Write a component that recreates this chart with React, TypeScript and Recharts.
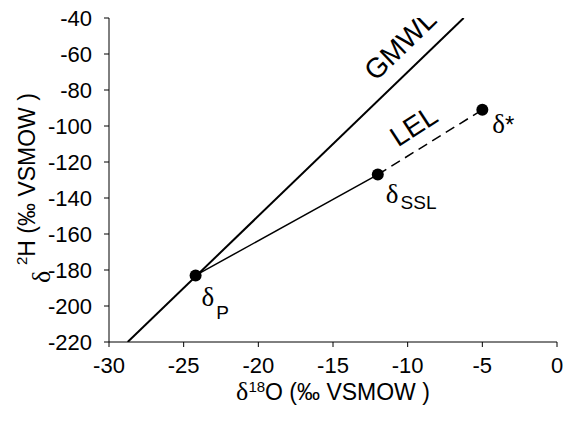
import { ScatterChart, Scatter, XAxis, YAxis } from "recharts";

const xTicks = [-30, -25, -20, -15, -10, -5, 0];
const yTicks = [-220, -200, -180, -160, -140, -120, -100, -80, -60, -40];

// GMWL end points (d2H = 8 d18O + 10)
const gmwlX = [-28.75, -6.25];
const gmwlY = [-220, -40];

// dP, dSSL, d*
const pointNames = ["P", "SSL", "*"];
const pointX = [-24.2, -12, -5];
const pointY = [-183, -127, -91];

// line captions
const lineNames = ["GMWL", "LEL"];
const lineLabelX = [-10.5, -9.6];
const lineLabelY = [-55, -100];

const gmwl = gmwlX.map((x, i) => ({ x, y: gmwlY[i] }));
const points = pointNames.map((name, i) => ({ name, x: pointX[i], y: pointY[i] }));
const lelSolid = points.slice(0, 2);
const lelDashed = points.slice(1);
const lineLabels = lineNames.map((name, i) => ({ name, x: lineLabelX[i], y: lineLabelY[i] }));

const SANS = "'Liberation Sans', Arial, sans-serif";
const SERIF = "'Liberation Serif', 'Times New Roman', serif";

// dx, dy of the delta, dy of the subscript
const labelOffset: Record<string, number[]> = {
  P: [6, 31, 13],
  SSL: [8, 28, 6],
  "*": [10, 23, 0],
};

const angles: Record<string, number> = { GMWL: -44, LEL: -33 };

const NoShape = () => <g />;

const PointShape = (props: any) => {
  const { cx, cy, payload } = props;
  const [dx, dy, sub] = labelOffset[payload.name];
  const star = payload.name === "*";
  return (
    <g>
      <circle cx={cx} cy={cy} r={6} fill="#000" />
      <text x={cx + dx} y={cy + dy} fontFamily={SERIF} fontSize={27} fill="#000">
        δ
        <tspan fontFamily={SANS} fontSize={star ? 24 : 19} dy={sub} dx={star ? 0 : 2}>
          {payload.name}
        </tspan>
      </text>
    </g>
  );
};

const CaptionShape = (props: any) => {
  const { cx, cy, payload } = props;
  return (
    <text
      x={cx}
      y={cy}
      textAnchor="middle"
      dominantBaseline="central"
      fontFamily={SANS}
      fontSize={28}
      fill="#000"
      transform={`rotate(${angles[payload.name]}, ${cx}, ${cy})`}
    >
      {payload.name}
    </text>
  );
};

const XLabel = (props: any) => {
  const { x, y, width } = props.viewBox;
  return (
    <text x={x + width / 2} y={y + 58} textAnchor="middle" fontFamily={SANS} fontSize={23} fill="#000">
      <tspan fontFamily={SERIF} fontSize={26}>δ</tspan>
      <tspan fontSize={15} dy={-8}>18</tspan>
      <tspan dy={8}>O (‰ VSMOW )</tspan>
    </text>
  );
};

const YLabel = (props: any) => {
  const { y, height } = props.viewBox;
  const cy = y + height / 2;
  return (
    <g>
      <text
        x={-(cy + 103)}
        y={50}
        transform="rotate(-90)"
        fontFamily={SERIF}
        fontSize={26}
        fill="#000"
      >
        δ
      </text>
      <text
        x={-(cy + 85)}
        y={35}
        transform="rotate(-90)"
        fontFamily={SANS}
        fontSize={23}
        fill="#000"
      >
        <tspan fontSize={15} dy={-8}>2</tspan>
        <tspan dy={8}>H (‰ VSMOW )</tspan>
      </text>
    </g>
  );
};

export default function App() {
  const tick = { fill: "#000", fontSize: 22, fontFamily: SANS };
  return (
    <div style={{ position: "absolute", left: 0, top: 0, background: "#fff" }}>
      <ScatterChart width={563} height={423} margin={{ top: 18, right: 6, bottom: 0, left: 0 }}>
        <XAxis
          type="number"
          dataKey="x"
          domain={[-30, 0]}
          ticks={xTicks}
          interval={0}
          allowDataOverflow
          height={81}
          tickSize={5}
          tickMargin={10}
          stroke="#000"
          tick={tick}
          label={{ content: XLabel }}
        />
        <YAxis
          type="number"
          dataKey="y"
          domain={[-220, -40]}
          ticks={yTicks}
          interval={0}
          allowDataOverflow
          width={109}
          tickSize={5}
          tickMargin={12}
          stroke="#000"
          tick={tick}
          label={{ content: YLabel }}
        />
        <Scatter
          data={gmwl}
          line={{ stroke: "#000", strokeWidth: 2, fill: "none" }}
          shape={NoShape}
          isAnimationActive={false}
        />
        <Scatter
          data={lelSolid}
          line={{ stroke: "#000", strokeWidth: 1.5, fill: "none" }}
          shape={NoShape}
          isAnimationActive={false}
        />
        <Scatter
          data={lelDashed}
          line={{ stroke: "#000", strokeWidth: 1.5, fill: "none", strokeDasharray: "10 6" }}
          shape={NoShape}
          isAnimationActive={false}
        />
        <Scatter data={points} shape={PointShape} isAnimationActive={false} />
        <Scatter data={lineLabels} shape={CaptionShape} isAnimationActive={false} />
      </ScatterChart>
    </div>
  );
}
